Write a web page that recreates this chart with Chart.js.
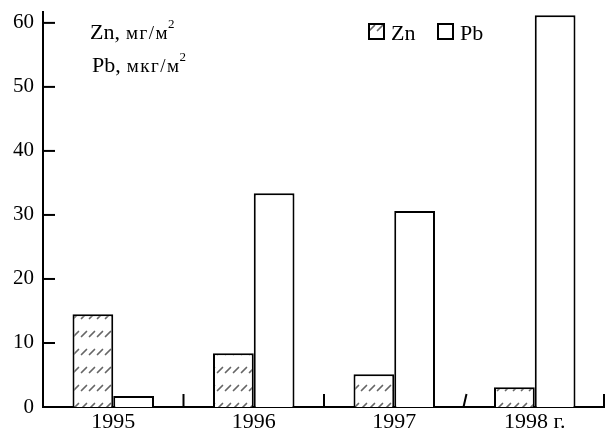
<!DOCTYPE html>
<html>
<head>
<meta charset="utf-8">
<script src="https://cdn.jsdelivr.net/npm/chart.js@4.4.1/dist/chart.umd.min.js"></script>
<style>
html,body{margin:0;padding:0;background:#fff;}
#c{display:block;}
</style>
</head>
<body>
<canvas id="c" width="605" height="432"></canvas>
<script>
// ---- data ----
const categories = ['1995', '1996', '1997', '1998 г.'];
const znValues = [14.5, 8.4, 5.1, 3.1];
const pbValues = [1.7, 33.4, 30.6, 61.2];
const yTickValues = [0, 10, 20, 30, 40, 50, 60];
const seriesNames = ['Zn', 'Pb'];

const SERIF = '"Liberation Serif", "Times New Roman", serif';

function makeHatch() {
  const t = document.createElement('canvas');
  t.width = 8; t.height = 18;
  const g = t.getContext('2d');
  g.fillStyle = '#fff';
  g.fillRect(0, 0, 8, 18);
  g.strokeStyle = '#666';
  g.lineWidth = 1.7;
  g.lineCap = 'round';
  g.beginPath();
  g.moveTo(1.5, 12.5);
  g.lineTo(6.5, 7.5);
  g.stroke();
  return document.getElementById('c').getContext('2d').createPattern(t, 'repeat');
}
const hatch = makeHatch();

const decor = {
  id: 'decor',
  afterDraw(chart) {
    const ctx = chart.ctx;
    const x = chart.scales.x, y = chart.scales.y;
    const area = chart.chartArea;
    ctx.save();
    ctx.strokeStyle = '#000';
    ctx.lineWidth = 2;
    // inner y ticks
    yTickValues.forEach(v => {
      if (v === 0) return;
      const py = y.getPixelForValue(v);
      ctx.beginPath();
      ctx.moveTo(area.left, py);
      ctx.lineTo(area.left + 12, py);
      ctx.stroke();
    });
    // category boundary ticks
    const half = (x.getPixelForValue(1) - x.getPixelForValue(0)) / 2;
    const base = y.getPixelForValue(0);
    categories.forEach((c, i) => {
      let bx = x.getPixelForValue(i) + half;
      if (bx > area.right - 1) bx = area.right - 1;
      ctx.beginPath();
      if (i === 2) {
        ctx.moveTo(bx - 1, base);
        ctx.lineTo(bx + 2, base - 13);
      } else {
        ctx.moveTo(bx, base);
        ctx.lineTo(bx, base - 13);
      }
      ctx.stroke();
    });
    // legend
    const fills = [hatch, '#fff'];
    const lx = [368, 437];
    ctx.font = '22px ' + SERIF;
    ctx.textBaseline = 'alphabetic';
    seriesNames.forEach((n, i) => {
      ctx.fillStyle = fills[i];
      ctx.fillRect(lx[i] + 1, 24, 15, 15);
      ctx.lineWidth = 2;
      ctx.strokeStyle = '#000';
      ctx.strokeRect(lx[i] + 1, 24, 15, 15);
      ctx.fillStyle = '#000';
      ctx.fillText(n, lx[i] + 23, 40);
    });
    // unit labels
    function unit(el, rest, bx, by) {
      ctx.font = '22px ' + SERIF;
      ctx.fillText(el, bx, by);
      let w = ctx.measureText(el).width;
      ctx.font = '19px ' + SERIF;
      if ('letterSpacing' in ctx) ctx.letterSpacing = '1.5px';
      ctx.fillText(rest, bx + w + 6, by);
      w += 6 + ctx.measureText(rest).width;
      if ('letterSpacing' in ctx) { ctx.letterSpacing = '0px'; w -= 1.5; }
      ctx.font = '13px ' + SERIF;
      ctx.fillText('2', bx + w + 0.5, by - 11);
    }
    unit('Zn,', 'мг/м', 90, 39);
    unit('Pb,', 'мкг/м', 92, 72);
    ctx.restore();
  }
};

new Chart(document.getElementById('c'), {
  type: 'bar',
  data: {
    labels: categories,
    datasets: [
      { label: seriesNames[0], data: znValues, backgroundColor: hatch, borderColor: '#000', borderWidth: 2,
        categoryPercentage: 0.58, barPercentage: 1.0 },
      { label: seriesNames[1], data: pbValues, backgroundColor: '#fff', borderColor: '#000', borderWidth: 2,
        categoryPercentage: 0.58, barPercentage: 1.0 }
    ]
  },
  options: {
    responsive: false,
    animation: false,
    layout: { padding: { top: 12, right: 0, left: 0, bottom: 0 } },
    plugins: { legend: { display: false }, tooltip: { enabled: false } },
    scales: {
      x: {
        grid: { display: false, drawTicks: false },
        border: { display: true, color: '#000', width: 2 },
        ticks: { color: '#000', font: { family: SERIF, size: 22 }, padding: 2, maxRotation: 0 },
        afterFit(s) { s.height = 25; s.paddingLeft = 0; s.paddingRight = 0; }
      },
      y: {
        min: 0, max: 61.7,
        grid: { display: false, drawTicks: false },
        border: { display: true, color: '#000', width: 2 },
        ticks: { color: '#000', font: { family: SERIF, size: 21 }, padding: 9 },
        afterBuildTicks(s) { s.ticks = yTickValues.map(v => ({ value: v })); },
        afterFit(s) { s.width = 43; s.paddingTop = 0; s.paddingBottom = 0; }
      }
    }
  },
  plugins: [decor]
});
</script>
</body>
</html>
